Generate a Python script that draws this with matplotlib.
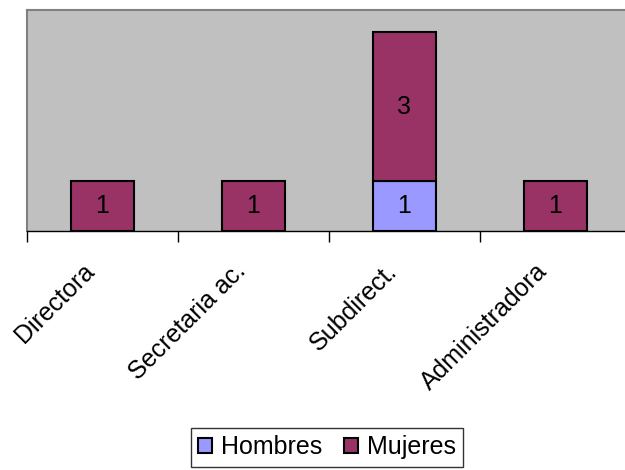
import numpy as np
import matplotlib
matplotlib.use('Agg')
import matplotlib.pyplot as plt
import matplotlib.transforms as mtransforms

plt.rcParams['font.family'] = ['Liberation Sans', 'DejaVu Sans']

categorias = ['Directora', 'Secretaria ac.', 'Subdirect.', 'Administradora']
hombres = [0, 0, 1, 0]
mujeres = [1, 1, 3, 1]

fig = plt.figure(figsize=(6.25, 4.7), dpi=100)
ax = fig.add_axes([27 / 625, 239 / 470, 604 / 625, 221 / 470])
ax.set_facecolor('#C0C0C0')

x = np.arange(len(categorias))
b1 = ax.bar(x, hombres, 0.42, color='#9999FF', edgecolor='black', linewidth=1.5, label='Hombres')
b2 = ax.bar(x, mujeres, 0.42, bottom=hombres, color='#993366', edgecolor='black', linewidth=1.5, label='Mujeres')

for i in range(len(categorias)):
    if hombres[i] > 0:
        ax.text(x[i], hombres[i] / 2, str(hombres[i]), ha='center', va='center', fontsize=18)
    if mujeres[i] > 0:
        ax.text(x[i], hombres[i] + mujeres[i] / 2, str(mujeres[i]), ha='center', va='center', fontsize=18)

ax.set_xlim(-0.5, len(categorias) - 0.5)
ax.set_ylim(0, 4.45)
ax.set_yticks([])

ax.set_xticks(x)
ax.set_xticklabels(categorias, rotation=45, ha='right', rotation_mode='anchor', fontsize=18)
ax.tick_params(axis='x', which='major', length=0, pad=20)
ax.set_xticks(np.arange(-0.5, len(categorias)), minor=True)
ax.tick_params(axis='x', which='minor', length=8, width=1, color='black', direction='out')

offset = mtransforms.ScaledTranslation(-20 / 100, 0, fig.dpi_scale_trans)
for lab in ax.get_xticklabels():
    lab.set_transform(lab.get_transform() + offset)

for s in ['top', 'left', 'right']:
    ax.spines[s].set_color('#808080')
    ax.spines[s].set_linewidth(1.5)
ax.spines['bottom'].set_color('black')
ax.spines['bottom'].set_linewidth(1)

leg = fig.legend(handles=[b1, b2], loc='center', bbox_to_anchor=(327 / 625, 1 - 447 / 470),
                 ncol=2, fontsize=18, frameon=True, fancybox=False,
                 handlelength=0.55, handleheight=0.55, handletextpad=0.35, columnspacing=0.9,
                 borderpad=0.3, borderaxespad=0)
leg.get_frame().set_edgecolor('black')
leg.get_frame().set_linewidth(1)

fig.savefig('out.png', dpi=100)
